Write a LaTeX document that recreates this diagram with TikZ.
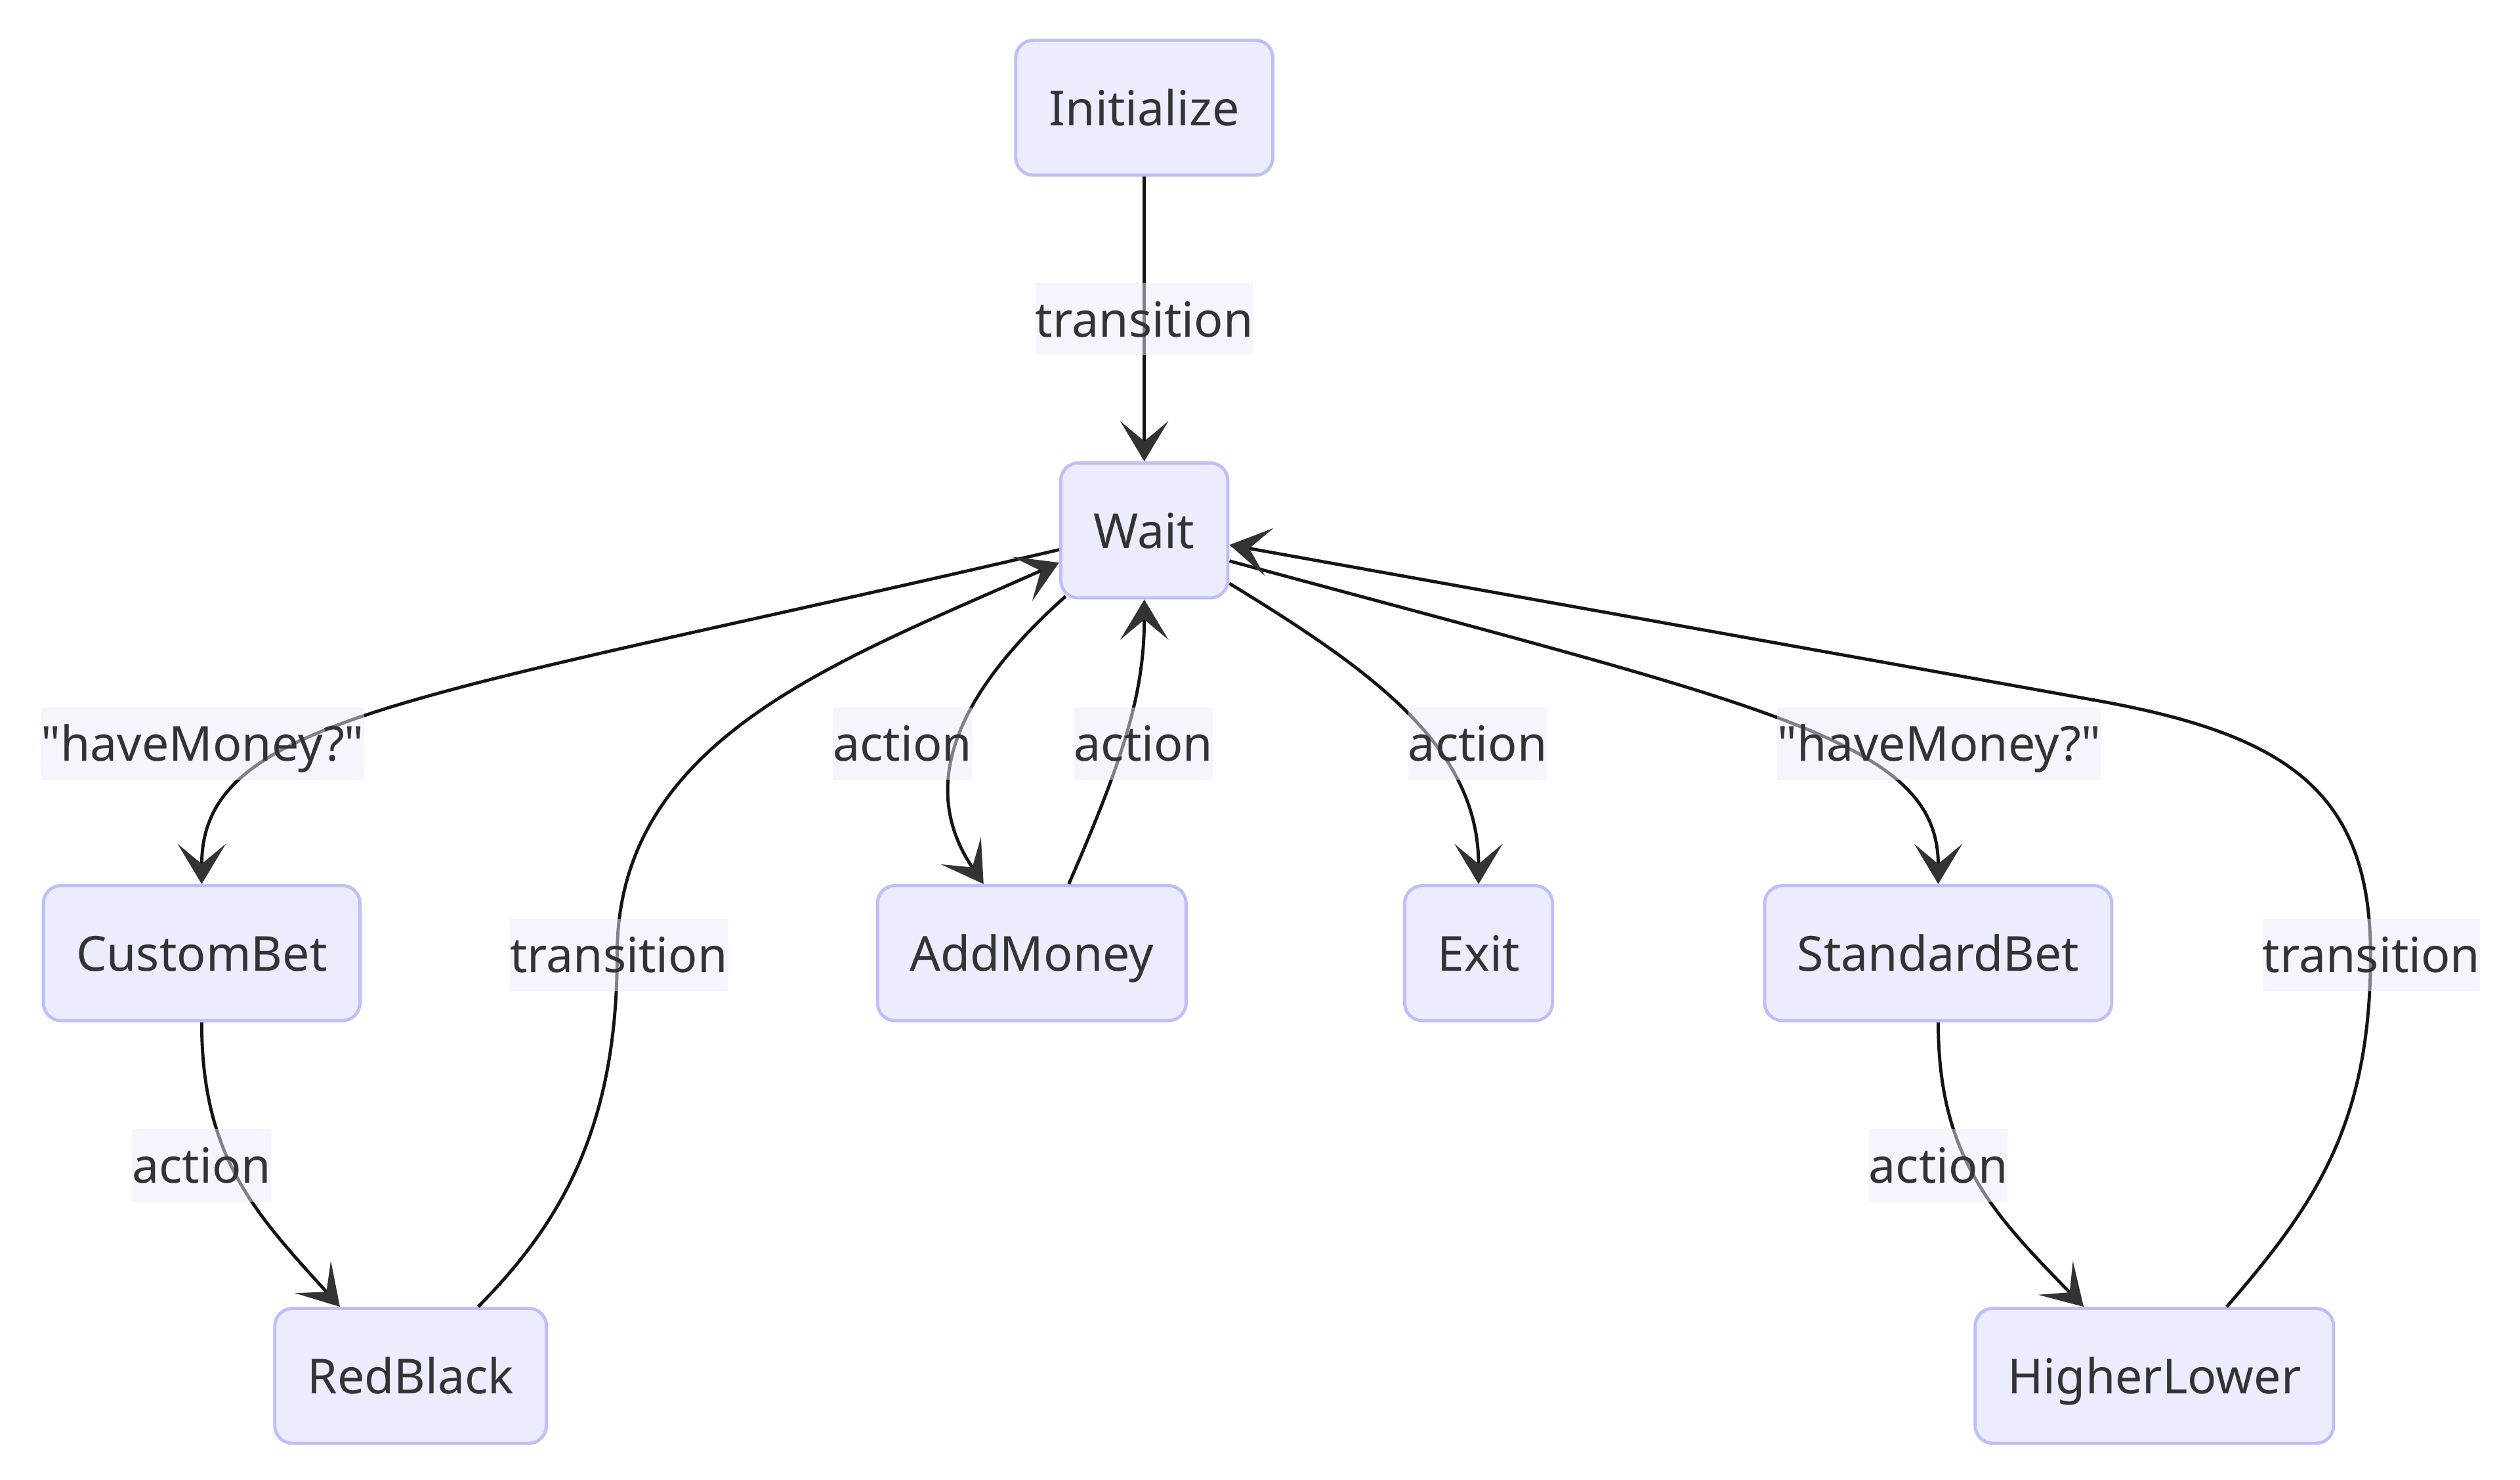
\documentclass[tikz,border=0pt]{standalone}
\usepackage{fontspec}
\setmainfont{Noto Sans}[Ligatures=TeXOff]
\usetikzlibrary{arrows.meta,calc}
\definecolor{nodefill}{RGB}{236,236,255}
\definecolor{nodeborder}{RGB}{190,190,248}
\definecolor{labelbg}{RGB}{236,236,255}
\definecolor{txt}{RGB}{51,51,51}
\definecolor{edgecol}{RGB}{20,20,20}
\definecolor{tipcol}{RGB}{51,51,51}
\begin{document}
\begin{tikzpicture}[x=0.5pt,y=-0.5pt,
  statebox/.style={draw=nodeborder, fill=nodefill, line width=1pt, rounded corners=5.5pt,
    minimum height=42pt, inner xsep=6pt, inner ysep=0pt, text=txt,
    font=\fontsize{15}{18}\selectfont, text height=16.75pt, text depth=5.75pt},
  lbl/.style={fill=labelbg, fill opacity=0.5, text opacity=1, text=txt, inner xsep=0pt,
    inner ysep=0pt, font=\fontsize{15}{18}\selectfont, text height=16.75pt, text depth=5.75pt},
  tr/.style={draw=edgecol, line width=1pt,
    -{Stealth[length=12.5pt,width=15pt,inset=6.25pt,color=tipcol]}}
]
\useasboundingbox (0,0) rectangle (1568,920.4);
% states
\node[statebox, minimum width=80pt]   (init)        at (712,67)   {Initialize};
\node[statebox, minimum width=52pt]   (wait)        at (712,330)  {Wait};
\node[statebox, minimum width=98.5pt] (custombet)   at (125.5,593) {CustomBet};
\node[statebox, minimum width=96pt]   (addmoney)    at (642,593)  {AddMoney};
\node[statebox, minimum width=46pt]   (exit)        at (920,593)  {Exit};
\node[statebox, minimum width=108pt]  (standardbet) at (1206,593) {StandardBet};
\node[statebox, minimum width=84.5pt] (redblack)    at (255.5,856) {RedBlack};
\node[statebox, minimum width=111.5pt](higherlower) at (1340.5,856) {HigherLower};
% transitions
\draw[tr] (init) -- (wait);
\draw[tr] ($(wait.west)+(0,12)$) .. controls (260,435) and (125.5,445) .. (custombet.north);
\draw[tr] ($(wait.east)+(0,19)$) .. controls (1100,440) and (1206,460) .. (standardbet.north);
\draw[tr] ($(wait.south west)+(4,-2)$) .. controls (580,445) and (578,500) .. ($(addmoney.north)+(-30,0)$);
\draw[tr] ($(addmoney.north)+(23,0)$) .. controls (700,470) and (712,430) .. (wait.south);
\draw[tr] ($(wait.east)+(0,33)$) .. controls (855,418) and (920,465) .. (exit.north);
\draw[tr] (custombet.south) .. controls (125.5,720) and (159,755) .. ($(redblack.north)+(-44,0)$);
\draw[tr] (standardbet.south) .. controls (1206,720) and (1240,755) .. ($(higherlower.north)+(-44,0)$);
\draw[tr] ($(redblack.north)+(42,0)$) .. controls (350,760) and (384,700) .. (384,594)
  .. controls (384,460) and (520,412) .. ($(wait.west)+(0,20)$);
\draw[tr] ($(higherlower.north)+(45,0)$) .. controls (1440,750) and (1475,700) .. (1475,594)
  .. controls (1475,490) and (1420,456) .. (1300,435) -- ($(wait.east)+(0,9)$);
% labels
\node[lbl] (l1)  at (712,198.5)  {transition};
\node[lbl] (l2)  at (126,462.5)  {"haveMoney?"};
\node[lbl] (l3)  at (561.5,462.5) {action};
\node[lbl] (l4)  at (711.5,462.5) {action};
\node[lbl] (l5)  at (919.5,462.5) {action};
\node[lbl] (l6)  at (1206.5,462.5) {"haveMoney?"};
\node[lbl] (l7)  at (385,594)    {transition};
\node[lbl] (l8)  at (1475.5,594) {transition};
\node[lbl] (l9)  at (125.5,725)  {action};
\node[lbl] (l10) at (1206,725)   {action};
\end{tikzpicture}
\end{document}
